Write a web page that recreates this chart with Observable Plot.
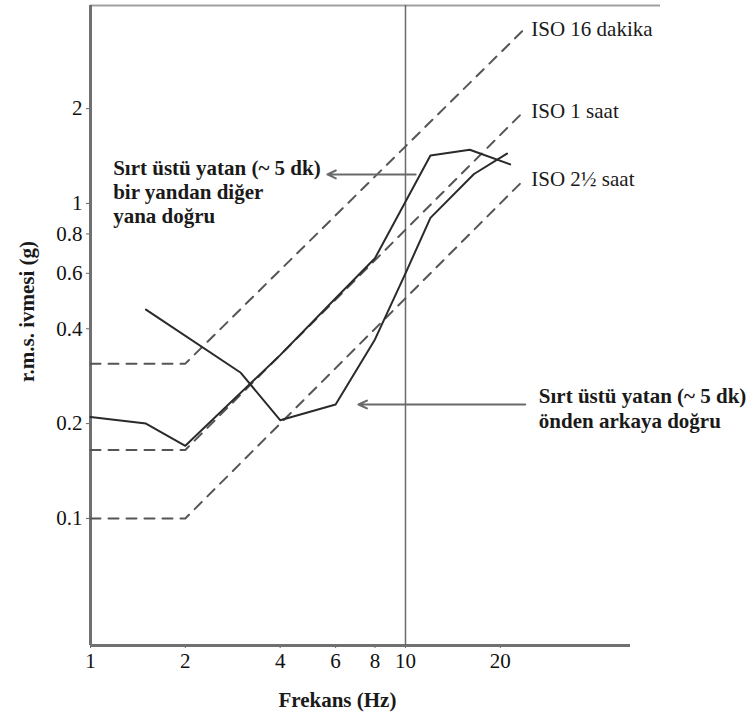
<!DOCTYPE html>
<html><head><meta charset="utf-8">
<script src="https://cdn.jsdelivr.net/npm/d3@7"></script>
<script src="https://cdn.jsdelivr.net/npm/@observablehq/plot@0.6"></script>
<style>body{margin:0;background:#fff} svg{display:block}</style>
</head><body><div id="chart"></div>
<script>
// Tick values
const freqTicks = [1, 2, 4, 6, 8, 10, 20];
const accelTicks = [0.1, 0.2, 0.4, 0.6, 0.8, 1, 2];

// ISO boundary curves (dashed)
const isoFreq = [1, 2, 24];
const iso16min = [0.31, 0.31, 3.6];
const iso1h = [0.165, 0.165, 1.98];
const iso25h = [0.1, 0.1, 1.2];
const isoLabels = ["ISO 16 dakika", "ISO 1 saat", "ISO 2½ saat"];

// Measured curves (solid)
const lateralFreq = [1, 1.5, 2, 4, 6, 8, 12, 16, 21.5];
const lateralAccel = [0.21, 0.2, 0.17, 0.33, 0.5, 0.67, 1.42, 1.48, 1.33];
const foreAftFreq = [1.5, 3, 4, 6, 8, 10, 12, 16.5, 21];
const foreAftAccel = [0.46, 0.29, 0.205, 0.23, 0.37, 0.6, 0.9, 1.24, 1.44];

// Annotation texts
const lateralLabel = "Sırt üstü yatan (~ 5 dk)\nbir yandan diğer\nyana doğru";
const foreAftLabel = "Sırt üstü yatan (~ 5 dk)\nönden arkaya doğru";
const xTitle = "Frekans (Hz)";
const yTitle = "r.m.s. ivmesi (g)";

const xDomain = [1, 64.5];
const yDomain = [0.0395, 4.25];
const xAxisEnd = 51.8;

const toRows = (xs, ys) => xs.map((x, i) => ({x, y: ys[i]}));
const isoSeries = [iso16min, iso1h, iso25h];

const dashStyle = {x: "x", y: "y", stroke: "#555", strokeWidth: 2, strokeDasharray: "10,8"};
const solidStyle = {x: "x", y: "y", stroke: "#2a2a2a", strokeWidth: 2};
const arrowStyle = {x1: "x1", x2: "x2", y1: "y", y2: "y", stroke: "#6a6a6a", strokeWidth: 2, headLength: 7, headAngle: 50};

const chart = Plot.plot({
  width: 754, height: 717,
  marginLeft: 90, marginRight: 94, marginTop: 5, marginBottom: 72,
  style: {fontFamily: "'Liberation Serif', serif", fontSize: "21px", color: "#111", background: "#fff"},
  x: {type: "log", domain: xDomain},
  y: {type: "log", domain: yDomain},
  marks: [
    Plot.axisX(freqTicks, {tickSize: 3, text: null, label: null, stroke: "#666"}),
    Plot.text(freqTicks, {x: d => d, frameAnchor: "bottom", dy: 16, lineAnchor: "middle", text: d => String(d), fill: "#111"}),
    Plot.axisY(accelTicks, {tickSize: 4, tickPadding: 4, label: null, tickFormat: d => String(d), stroke: "#666", fill: "#111"}),
    // frame lines
    Plot.ruleY([yDomain[1]], {x1: xDomain[0], x2: xDomain[1], stroke: "#a0a0a0", strokeWidth: 2}),
    Plot.ruleY([yDomain[0]], {x1: xDomain[0], x2: xAxisEnd, stroke: "#707070", strokeWidth: 3}),
    Plot.ruleX([xDomain[0]], {stroke: "#707070", strokeWidth: 3}),
    Plot.ruleX([10], {stroke: "#6a6a6a", strokeWidth: 1.5}),
    // ISO dashed lines
    ...isoSeries.map(s => Plot.line(toRows(isoFreq, s), dashStyle)),
    Plot.text(isoSeries.map((s, i) => ({x: isoFreq[2], y: s[2], t: isoLabels[i]})),
      {x: "x", y: "y", text: "t", textAnchor: "start", dx: 6, dy: 1, fill: "#1a1a1a"}),
    // measured curves
    Plot.line(toRows(lateralFreq, lateralAccel), solidStyle),
    Plot.line(toRows(foreAftFreq, foreAftAccel), solidStyle),
    // arrows
    Plot.arrow([{x1: 10.77, x2: 5.65, y: 1.236}], arrowStyle),
    Plot.arrow([{x1: 24.0, x2: 7.09, y: 0.23}], arrowStyle),
    // annotations
    Plot.text([lateralLabel], {x: 1.18, y: 1.40, text: d => d, textAnchor: "start", lineAnchor: "top", lineHeight: 1.15, fontWeight: "bold", fill: "#1a1a1a"}),
    Plot.text([foreAftLabel], {x: 26.5, y: 0.264, text: d => d, textAnchor: "start", lineAnchor: "top", lineHeight: 1.18, fontWeight: "bold", fill: "#1a1a1a"}),
    // axis titles
    Plot.text([xTitle], {x: 6.08, frameAnchor: "bottom", dy: 55, textAnchor: "middle", lineAnchor: "middle", text: d => d, fontWeight: "bold", fill: "#1a1a1a"}),
    Plot.text([yTitle], {y: 0.454, frameAnchor: "left", dx: -63, rotate: -90, textAnchor: "middle", lineAnchor: "middle", text: d => d, fontWeight: "bold", fill: "#1a1a1a"})
  ]
});
document.getElementById("chart").appendChild(chart);
</script>
</body></html>
